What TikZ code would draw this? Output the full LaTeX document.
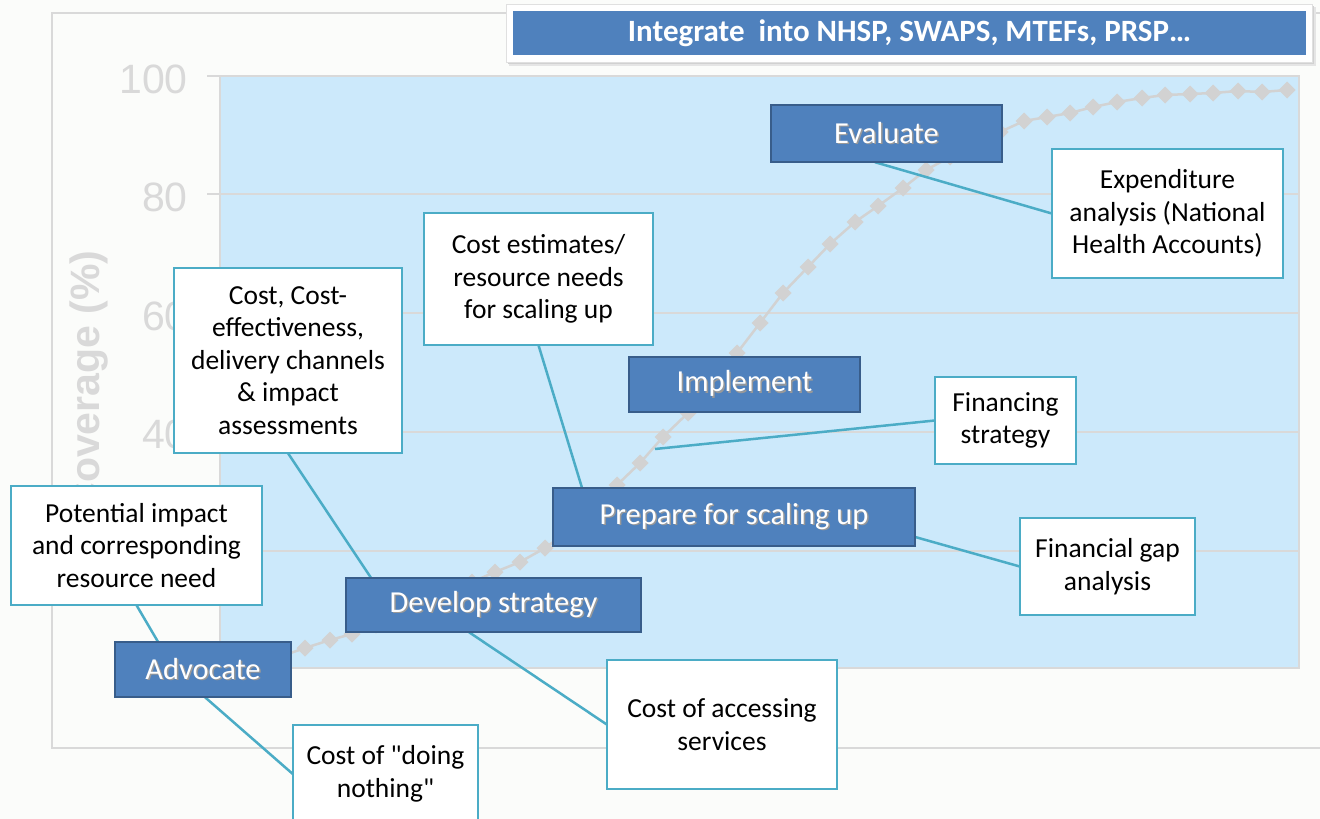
\documentclass[tikz,border=0pt]{standalone}
\usepackage{fontspec}
\setmainfont{Carlito}
\newfontfamily\axisfont{Liberation Sans}
\usetikzlibrary{calc}
\definecolor{bgc}{RGB}{251,252,250}
\definecolor{stageblue}{RGB}{79,129,189}
\definecolor{stageborder}{RGB}{56,93,138}
\definecolor{tealc}{RGB}{75,172,198}
\definecolor{plotblue}{RGB}{204,233,251}
\definecolor{gridgrey}{RGB}{217,217,217}
\definecolor{curvegrey}{RGB}{210,210,210}
\newcommand\shtext[1]{\makebox[0pt][l]{\raisebox{-1.5pt}{\hspace{1.5pt}\textcolor{black!40}{#1}}}#1}
\begin{document}
\begin{tikzpicture}[x=1pt,y=-1pt,
  stagebox/.style={fill=stageblue, draw=stageborder, line width=2pt, text=white, inner sep=0pt,
    font=\fontsize{30.5}{35}\selectfont},
  notebox/.style={fill=white, draw=tealc, line width=2.5pt, text=black, inner sep=0pt, align=center,
    font=\fontsize{27.5}{32.5}\selectfont},
  link/.style={draw=tealc, line width=2.5pt},
  gridline/.style={draw=gridgrey, line width=1.2pt},
  axislab/.style={text=gridgrey, inner sep=0pt, anchor=east, font=\axisfont\fontsize{41}{44}\selectfont},
]
\useasboundingbox (0,0) rectangle (1320,819);
\clip (0,0) rectangle (1320,819);
\fill[bgc] (0,0) rectangle (1320,819);
% chart frame
\draw[gridgrey, line width=2.5pt] (52,13) rectangle (1345,748);
% plot area
\fill[plotblue] (220,76) rectangle (1299,668);
\foreach \g in {76,194,313,432,551} {
  \draw[gridline] (207,\g) -- (1299,\g);
}
\draw[gridgrey, line width=2pt] (220,76) rectangle (1299,668);
% axis labels
\node[axislab] at (188,79) {100};
\node[axislab] at (188,197) {80};
\node[axislab] at (188,316) {60};
\node[axislab] at (188,434) {40};
\node[rotate=90, text=gridgrey, inner sep=0pt, font=\axisfont\bfseries\fontsize{41}{44}\selectfont] (ytitle) at (88.5,381.5) {Coverage (\%)};
% coverage curve
\draw[curvegrey, line width=2.5pt, line join=round] (258,660) -- (282,656) -- (305,648) -- (330,640) -- (352,634) -- (376,625) -- (400,615) -- (424,604) -- (448,593) -- (472,582) -- (495,572) -- (520,562) -- (545,548) -- (570,530) -- (593,507) -- (617,485) -- (640,463) -- (663,437) -- (688,413) -- (712,383) -- (737,353) -- (760,323) -- (783,293) -- (808,267) -- (830,244) -- (855,222) -- (878,206) -- (903,188) -- (926,170) -- (950,157) -- (975,144) -- (1000,132) -- (1024,121) -- (1047,117) -- (1070,113) -- (1093,107) -- (1117,102) -- (1142,98) -- (1165,95) -- (1190,94) -- (1213,93) -- (1238,91) -- (1262,92) -- (1287,90);
\foreach \px/\py in {258/660,282/656,305/648,330/640,352/634,376/625,400/615,424/604,448/593,472/582,495/572,520/562,545/548,570/530,593/507,617/485,640/463,663/437,688/413,712/383,737/353,760/323,783/293,808/267,830/244,855/222,878/206,903/188,926/170,950/157,975/144,1000/132,1024/121,1047/117,1070/113,1093/107,1117/102,1142/98,1165/95,1190/94,1213/93,1238/91,1262/92,1287/90} {
  \fill[curvegrey] (\px,\py-8.5) -- (\px+8.5,\py) -- (\px,\py+8.5) -- (\px-8.5,\py) -- cycle;
}
% node positions (named), drawn after connectors
\coordinate (fsend) at (655,449);
\path (886.5,133.5) coordinate (evalc) (1167.5,213.5) coordinate (expendc);
\node[minimum width=231pt, minimum height=57pt, inner sep=0pt] (eval) at (886.5,133.5) {};
\node[minimum width=231pt, minimum height=129pt, inner sep=0pt] (expend) at (1167.5,213.5) {};
\node[minimum width=229pt, minimum height=132pt, inner sep=0pt] (costest) at (538.5,279) {};
\node[minimum width=228pt, minimum height=185pt, inner sep=0pt] (costeff) at (288,360.5) {};
\node[minimum width=231pt, minimum height=55pt, inner sep=0pt] (impl) at (744.5,384.5) {};
\node[minimum width=141pt, minimum height=87pt, inner sep=0pt] (finstrat) at (1005.5,420.5) {};
\node[minimum width=362pt, minimum height=58pt, inner sep=0pt] (prep) at (734,517) {};
\node[minimum width=175pt, minimum height=97pt, inner sep=0pt] (fingap) at (1107.5,566.5) {};
\node[minimum width=251pt, minimum height=119pt, inner sep=0pt] (potential) at (136.5,545.5) {};
\node[minimum width=295pt, minimum height=54pt, inner sep=0pt] (develop) at (493.5,605) {};
\node[minimum width=176pt, minimum height=55pt, inner sep=0pt] (advocate) at (203,669.5) {};
\node[minimum width=230pt, minimum height=129pt, inner sep=0pt] (access) at (722,724.5) {};
\node[minimum width=185pt, minimum height=98pt, inner sep=0pt] (nothing) at (385.5,774) {};
% connectors
\path[link] ([xshift=-11.5pt]eval.south) -- (expend.west);
\path[link] (costest.south) -- ([xshift=-152pt]prep.north);
\path[link] (costeff.south) -- ([xshift=-122.5pt]develop.north);
\path[link] (potential.south) -- ([xshift=-45pt]advocate.north);
\path[link] ([xshift=2pt]advocate.south) -- (nothing.west);
\path[link] ([xshift=-24.5pt]develop.south) -- (access.west);
\path[link] ([yshift=-20pt]prep.east) -- (fingap.west);
\path[link] (finstrat.west) -- (fsend);
% boxes
\node[stagebox, minimum width=231pt, minimum height=57pt] at (eval) {\shtext{Evaluate}};
\node[notebox, minimum width=231pt, minimum height=129pt] at (expend) {Expenditure\\analysis (National\\Health Accounts)};
\node[notebox, minimum width=229pt, minimum height=132pt] at (costest) {Cost estimates/\\resource needs\\for scaling up};
\node[notebox, minimum width=228pt, minimum height=185pt] at (costeff) {Cost, Cost-\\effectiveness,\\delivery channels\\\& impact\\assessments};
\node[stagebox, minimum width=231pt, minimum height=55pt] at (impl) {\shtext{Implement}};
\node[notebox, minimum width=141pt, minimum height=87pt] at (finstrat) {Financing\\strategy};
\node[stagebox, minimum width=362pt, minimum height=58pt] at (prep) {\shtext{Prepare for scaling up}};
\node[notebox, minimum width=175pt, minimum height=97pt] at (fingap) {Financial gap\\analysis};
\node[notebox, minimum width=251pt, minimum height=119pt] at (potential) {Potential impact\\and corresponding\\resource need};
\node[stagebox, minimum width=295pt, minimum height=54pt] at (develop) {\shtext{Develop strategy}};
\node[stagebox, minimum width=176pt, minimum height=55pt] at (advocate) {\shtext{Advocate}};
\node[notebox, minimum width=230pt, minimum height=129pt] at (access) {Cost of accessing\\services};
\node[notebox, minimum width=185pt, minimum height=98pt] at (nothing) {Cost of \textquotedbl doing\\nothing\textquotedbl};
% banner
\fill[black!10] (509,7) rectangle (1316,66);
\fill[black!18] (508,6) rectangle (1314,64);
\node[fill=white, draw=black!12, line width=1pt, minimum width=806pt, minimum height=58pt, inner sep=0pt] (bannerbox) at (909,33) {};
\node[fill=stageblue, minimum width=793pt, minimum height=44pt, inner sep=0pt, text=white,
  font=\bfseries\fontsize{31}{35}\selectfont] (banner) at (909.5,33) {Integrate\ \ into NHSP, SWAPS, MTEFs, PRSP…};
\end{tikzpicture}
\end{document}
